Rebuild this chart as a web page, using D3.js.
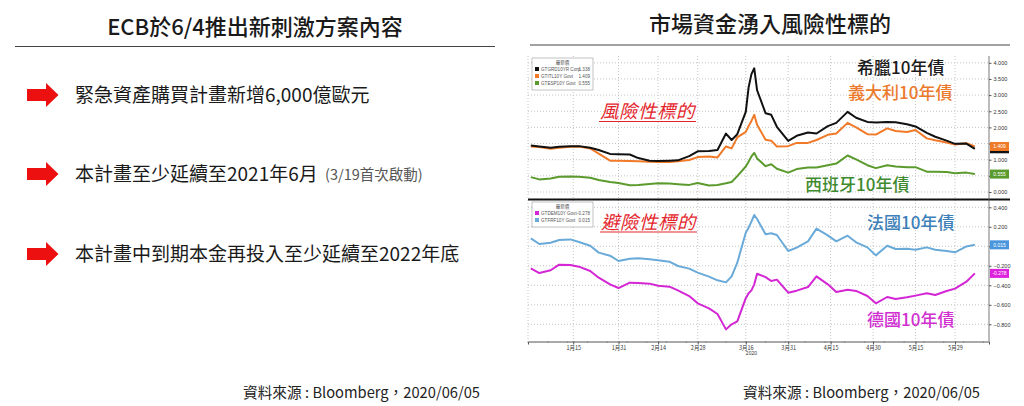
<!DOCTYPE html>
<html>
<head>
<meta charset="utf-8">
<script src="https://cdnjs.cloudflare.com/ajax/libs/d3/7.8.5/d3.min.js"></script>
<style>
  body { margin: 0; background: #fff; }
  svg { display: block; }
  text { font-family: "Noto Sans CJK TC", "Noto Sans", sans-serif; }
  .bb text, .bb { font-family: "Liberation Sans", "DejaVu Sans", sans-serif; }
</style>
</head>
<body>
<div id="chart"></div>
<script>
// ---- data ----
var dates = ["2019-12-31","2020-01-03","2020-01-07","2020-01-10","2020-01-14","2020-01-17","2020-01-21","2020-01-24","2020-01-28","2020-01-31",
  "2020-02-04","2020-02-07","2020-02-11","2020-02-14","2020-02-18","2020-02-21","2020-02-25","2020-02-28",
  "2020-03-03","2020-03-06","2020-03-09","2020-03-11","2020-03-13","2020-03-16","2020-03-17","2020-03-18","2020-03-19","2020-03-20","2020-03-23","2020-03-25","2020-03-27","2020-03-31",
  "2020-04-03","2020-04-07","2020-04-10","2020-04-14","2020-04-17","2020-04-21","2020-04-24","2020-04-28",
  "2020-05-01","2020-05-05","2020-05-08","2020-05-12","2020-05-15","2020-05-19","2020-05-22","2020-05-26","2020-05-29",
  "2020-06-02","2020-06-05"];

var greece = [1.44,1.41,1.37,1.40,1.42,1.42,1.37,1.30,1.18,1.17,
  1.16,1.05,0.97,0.96,0.97,0.98,1.11,1.26,
  1.27,1.30,1.81,1.61,1.79,2.48,3.24,3.65,3.83,3.15,2.44,2.39,2.02,1.58,
  1.74,1.84,1.81,2.04,2.14,2.48,2.30,2.17,
  2.15,2.17,2.16,2.10,2.03,1.83,1.71,1.59,1.49,
  1.50,1.338];

var italy = [1.41,1.39,1.34,1.37,1.40,1.41,1.35,1.19,0.97,0.97,
  0.96,0.95,0.94,0.93,0.93,0.95,0.99,1.08,
  1.10,1.07,1.41,1.35,1.69,1.86,2.04,2.20,2.39,2.08,1.62,1.59,1.41,1.42,
  1.52,1.52,1.61,1.77,1.81,2.14,2.00,1.79,
  1.78,1.97,1.89,1.86,1.92,1.66,1.60,1.53,1.47,
  1.51,1.409];

var spain = [0.46,0.39,0.42,0.47,0.48,0.47,0.44,0.37,0.31,0.28,
  0.21,0.22,0.25,0.27,0.26,0.24,0.22,0.28,
  0.20,0.22,0.27,0.31,0.49,0.79,0.94,1.10,1.21,1.04,0.80,0.86,0.72,0.60,
  0.71,0.76,0.76,0.83,0.88,1.13,1.01,0.83,
  0.74,0.83,0.79,0.77,0.77,0.63,0.63,0.62,0.58,
  0.60,0.555];

var france = [0.082,0.024,0.037,0.065,0.071,0.044,0.006,-0.065,-0.096,-0.151,
  -0.127,-0.123,-0.134,-0.144,-0.158,-0.202,-0.229,-0.270,
  -0.311,-0.349,-0.370,-0.308,-0.168,0.140,0.191,0.253,0.321,0.280,0.123,0.133,0.116,-0.048,
  -0.014,0.051,0.181,0.112,0.051,0.109,0.041,-0.011,
  -0.093,0.006,-0.028,-0.024,-0.035,-0.011,-0.035,-0.048,-0.062,
  -0.001,0.015];

var germany = [-0.226,-0.274,-0.246,-0.188,-0.192,-0.209,-0.253,-0.322,-0.390,-0.428,
  -0.373,-0.377,-0.383,-0.404,-0.414,-0.452,-0.510,-0.585,
  -0.636,-0.694,-0.852,-0.800,-0.770,-0.532,-0.482,-0.452,-0.390,-0.281,-0.316,-0.356,-0.342,-0.476,
  -0.455,-0.418,-0.308,-0.390,-0.469,-0.445,-0.458,-0.510,
  -0.585,-0.520,-0.541,-0.523,-0.506,-0.482,-0.499,-0.458,-0.434,
  -0.363,-0.278];

var topTicks = [0, 0.5, 1, 1.5, 2, 2.5, 3, 3.5, 4];
var bottomTicks = [0.4, 0.2, 0, -0.2, -0.4, -0.6, -0.8];
var dateTicks = ["2020-01-15","2020-01-31","2020-02-14","2020-02-28","2020-03-16","2020-03-31","2020-04-15","2020-04-30","2020-05-15","2020-05-29"];

var topNames = ["GTGRD10YR Corp", "GTITL10Y Govt", "GTESP10Y Govt"];
var bottomNames = ["GTDEM10Y Govt", "GTFRF10Y Govt"];

var bullets = ["緊急資產購買計畫新增6,000億歐元", "本計畫至少延續至2021年6月", "本計畫中到期本金再投入至少延續至2022年底"];
var bulletNote = "(3/19首次啟動)";
var sourceText = "資料來源 : Bloomberg，2020/06/05";

// ---- layout ----
var svgWidth = 1024;
var svgHeight = 406;

var plot = { left: 528, right: 989, top: 56, mid: 199.5, bottom: 341.5 };

var svg = d3.select("#chart")
  .append("svg")
  .attr("width", svgWidth)
  .attr("height", svgHeight);

var parseDate = d3.timeParse("%Y-%m-%d");
var dateObjs = dates.map(parseDate);

// ---- left half: text slide ----
svg.append("text")
  .attr("x", 255).attr("y", 35)
  .attr("text-anchor", "middle")
  .style("font-size", "22px")
  .style("font-weight", 500)
  .attr("fill", "#1a1a1a")
  .text("ECB於6/4推出新刺激方案內容");

svg.append("line")
  .attr("x1", 15).attr("x2", 495)
  .attr("y1", 46.5).attr("y2", 46.5)
  .attr("stroke", "#444").attr("stroke-width", 1);

var bulletY = [95, 174, 254];

var bulletGroup = svg.selectAll(".bullet")
  .data(bullets)
  .enter()
  .append("g")
  .attr("class", "bullet")
  .attr("transform", function(d, i) { return `translate(0,${bulletY[i]})`; });

// red arrows
bulletGroup.append("path")
  .attr("d", "M27,-6 L46,-6 L46,-12 L58.5,0 L46,12 L46,6 L27,6 Z")
  .attr("fill", "#ec1010");

bulletGroup.append("text")
  .attr("x", 75).attr("y", 7)
  .style("font-size", "19px")
  .attr("fill", "#1a1a1a")
  .text(function(d) { return d; });

svg.append("text")
  .attr("x", 325).attr("y", bulletY[1] + 6)
  .style("font-size", "14.5px")
  .attr("fill", "#555")
  .text(bulletNote);

// sources
[243, 743].forEach(function(x) {
  svg.append("text")
    .attr("x", x).attr("y", 398)
    .attr("textLength", 237)
    .attr("lengthAdjust", "spacingAndGlyphs")
    .style("font-size", "15px")
    .attr("fill", "#222")
    .text(sourceText);
});

// ---- right half: title ----
svg.append("text")
  .attr("x", 770).attr("y", 32)
  .attr("text-anchor", "middle")
  .style("font-size", "22px")
  .style("font-weight", 500)
  .attr("fill", "#1a1a1a")
  .text("市場資金湧入風險性標的");

svg.append("line")
  .attr("x1", 530).attr("x2", 1010)
  .attr("y1", 45).attr("y2", 45)
  .attr("stroke", "#444").attr("stroke-width", 1);

// ---- scales ----
var xScale = d3.scaleTime()
  .domain([new Date(2019, 11, 30), new Date(2020, 5, 10)])
  .range([plot.left, plot.right]);

var yTop = d3.scaleLinear()
  .domain([0, 4])
  .range([192, 62.8]);

var yBot = d3.scaleLinear()
  .domain([-0.8, 0.4])
  .range([324.3, 207.3]);

var chart = svg.append("g").attr("class", "bb");

// gridlines
chart.selectAll(".hgridT")
  .data(topTicks)
  .enter()
  .append("line")
  .attr("x1", plot.left).attr("x2", plot.right)
  .attr("y1", d => yTop(d)).attr("y2", d => yTop(d))
  .attr("stroke", "#c4c4c4").attr("stroke-dasharray", "1,2");

chart.selectAll(".hgridB")
  .data(bottomTicks)
  .enter()
  .append("line")
  .attr("x1", plot.left).attr("x2", plot.right)
  .attr("y1", d => yBot(d)).attr("y2", d => yBot(d))
  .attr("stroke", "#c4c4c4").attr("stroke-dasharray", "1,2");

chart.selectAll(".vgrid")
  .data(dateTicks.map(parseDate))
  .enter()
  .append("line")
  .attr("x1", d => xScale(d)).attr("x2", d => xScale(d))
  .attr("y1", plot.top).attr("y2", plot.bottom)
  .attr("stroke", "#c4c4c4").attr("stroke-dasharray", "1,2");

chart.append("line")
  .attr("x1", plot.left).attr("x2", plot.left)
  .attr("y1", plot.top).attr("y2", plot.bottom)
  .attr("stroke", "#c4c4c4").attr("stroke-dasharray", "1,2");

// series lines
var lineTop = d3.line()
  .x(function(d, i) { return xScale(dateObjs[i]); })
  .y(function(d) { return yTop(d); });

var lineBot = d3.line()
  .x(function(d, i) { return xScale(dateObjs[i]); })
  .y(function(d) { return yBot(d); });

var topSeries = [
  { vals: spain, color: "#5b9a2c" },
  { vals: italy, color: "#f07a28" },
  { vals: greece, color: "#111111" }
];
var bottomSeries = [
  { vals: france, color: "#6aaad9" },
  { vals: germany, color: "#d426d4" }
];

topSeries.forEach(function(s) {
  chart.append("path")
    .attr("d", lineTop(s.vals))
    .attr("fill", "none")
    .attr("stroke", s.color)
    .attr("stroke-width", 2)
    .attr("stroke-linejoin", "round");
});

bottomSeries.forEach(function(s) {
  chart.append("path")
    .attr("d", lineBot(s.vals))
    .attr("fill", "none")
    .attr("stroke", s.color)
    .attr("stroke-width", 2)
    .attr("stroke-linejoin", "round");
});

// panel separator
chart.append("line")
  .attr("x1", plot.left).attr("x2", 1010)
  .attr("y1", plot.mid).attr("y2", plot.mid)
  .attr("stroke", "#111").attr("stroke-width", 2);

// last value boxes (greece box sits under the italy box, its label is hidden)
var boxes = [
  { v: greece[greece.length - 1], y: yTop, color: "#111", label: "" },
  { v: italy[italy.length - 1], y: yTop, color: "#f07a28", label: "1.409" },
  { v: spain[spain.length - 1], y: yTop, color: "#5b9a2c", label: "0.555" },
  { v: france[france.length - 1], y: yBot, color: "#4a96dc", label: "0.015" },
  { v: germany[germany.length - 1], y: yBot, color: "#dd22dd", label: "-0.278" }
];

// right axes (labels covered by a value box are left out, as in the original)
function covered(scale, t) {
  return boxes.some(function(b) { return b.y === scale && Math.abs(scale(t) - b.y(b.v)) < 7; });
}

chart.append("line")
  .attr("x1", plot.right).attr("x2", plot.right)
  .attr("y1", plot.top).attr("y2", plot.bottom)
  .attr("stroke", "#555").attr("stroke-width", 0.8);

var axisTop = chart.append("g")
  .attr("transform", `translate(${plot.right},0)`)
  .call(d3.axisRight(yTop).tickValues(topTicks)
    .tickFormat(d => covered(yTop, d) ? "" : d3.format(".3f")(d))
    .tickSize(2.5).tickPadding(2));

var axisBot = chart.append("g")
  .attr("transform", `translate(${plot.right},0)`)
  .call(d3.axisRight(yBot).tickValues(bottomTicks)
    .tickFormat(d => covered(yBot, d) ? "" : d3.format(".3f")(d))
    .tickSize(2.5).tickPadding(2));

[axisTop, axisBot].forEach(function(a) {
  a.select(".domain").remove();
  a.selectAll("line").attr("stroke", "#555");
  a.selectAll("text")
    .style("font-size", "5.5px")
    .attr("fill", "#333");
});

// bottom date axis
var xAxis = d3.axisBottom(xScale)
  .tickValues(dateTicks.map(parseDate))
  .tickFormat(function(d) { return (d.getMonth() + 1) + "月" + d.getDate(); })
  .tickSize(3)
  .tickPadding(1.5);

var xAxisG = chart.append("g")
  .attr("transform", `translate(0,${plot.bottom})`)
  .call(xAxis);

xAxisG.select(".domain").attr("stroke", "#555");
xAxisG.selectAll("line").attr("stroke", "#555");
xAxisG.selectAll("text")
  .style("font-size", "5.5px")
  .style("font-family", "'Noto Sans CJK TC', sans-serif")
  .attr("fill", "#333");

// minor weekly ticks
chart.selectAll(".minor")
  .data(d3.timeMonday.range(new Date(2019, 11, 30), new Date(2020, 5, 10)))
  .enter()
  .append("line")
  .attr("x1", d => xScale(d)).attr("x2", d => xScale(d))
  .attr("y1", plot.bottom).attr("y2", plot.bottom + 1.5)
  .attr("stroke", "#666").attr("stroke-width", 0.6);

chart.append("text")
  .attr("x", xScale(parseDate("2020-03-18")))
  .attr("y", 355)
  .attr("text-anchor", "middle")
  .style("font-size", "5px")
  .attr("fill", "#333")
  .text("2020");

var boxG = chart.selectAll(".vbox")
  .data(boxes)
  .enter()
  .append("g")
  .attr("transform", d => `translate(${plot.right + 1},${d.y(d.v)})`);

boxG.append("rect")
  .attr("x", 0).attr("y", -4.5)
  .attr("width", 19).attr("height", 9)
  .attr("fill", d => d.color);

boxG.filter(d => d.label !== "")
  .append("text")
  .attr("x", 9.5).attr("y", 2)
  .attr("text-anchor", "middle")
  .style("font-size", "5px")
  .attr("fill", "#fff")
  .text(d => d.label);

// legends
function legend(x, y, names, colors, vals) {
  var h = 11 + names.length * 7;
  var g = chart.append("g").attr("transform", `translate(${x},${y})`);
  g.append("rect")
    .attr("width", 61).attr("height", h)
    .attr("fill", "#fff").attr("stroke", "#999").attr("stroke-width", 0.6);
  g.append("text")
    .attr("x", 30.5).attr("y", 6)
    .attr("text-anchor", "middle")
    .style("font-size", "4.5px")
    .style("font-family", "'Noto Sans CJK TC', sans-serif")
    .attr("fill", "#555")
    .text("最新價");
  names.forEach(function(n, i) {
    g.append("rect")
      .attr("x", 3).attr("y", 9 + i * 7)
      .attr("width", 4).attr("height", 4)
      .attr("fill", colors[i]);
    g.append("text")
      .attr("x", 9).attr("y", 12.6 + i * 7)
      .style("font-size", "4.6px")
      .attr("fill", "#555")
      .text(n);
    g.append("text")
      .attr("x", 58).attr("y", 12.6 + i * 7)
      .attr("text-anchor", "end")
      .style("font-size", "4.6px")
      .attr("fill", "#555")
      .text(vals[i]);
  });
}

legend(532, 58, topNames, ["#111", "#f07a28", "#5b9a2c"], ["1.338", "1.409", "0.555"]);
legend(532, 202, bottomNames, ["#d426d4", "#6aaad9"], ["-0.278", "0.015"]);

// annotations
var notes = [
  { text: "風險性標的", x: 600, y: 118 },
  { text: "避險性標的", x: 601, y: 228.5 }
];
notes.forEach(function(n) {
  svg.append("text")
    .attr("x", n.x).attr("y", n.y)
    .style("font-size", "18.5px")
    .style("font-style", "italic")
    .attr("letter-spacing", "0.5px")
    .attr("fill", "#e4262c")
    .text(n.text);
  svg.append("line")
    .attr("x1", n.x - 1).attr("x2", n.x + 96)
    .attr("y1", n.y + 3.5).attr("y2", n.y + 3.5)
    .attr("stroke", "#e4262c").attr("stroke-width", 1.2);
});

var seriesLabels = [
  { text: "希臘10年債", x: 857, y: 68, color: "#1a1a1a" },
  { text: "義大利10年債", x: 848, y: 93, color: "#ec7a2c" },
  { text: "西班牙10年債", x: 805, y: 185, color: "#3f8a2f" },
  { text: "法國10年債", x: 867, y: 223, color: "#3d7fb8" },
  { text: "德國10年債", x: 867, y: 320, color: "#d12fd1" }
];

svg.selectAll(".slabel")
  .data(seriesLabels)
  .enter()
  .append("text")
  .attr("x", d => d.x).attr("y", d => d.y + 6.2)
  .style("font-size", "17px")
  .style("font-weight", 500)
  .attr("fill", d => d.color)
  .text(d => d.text);
</script>
</body>
</html>
